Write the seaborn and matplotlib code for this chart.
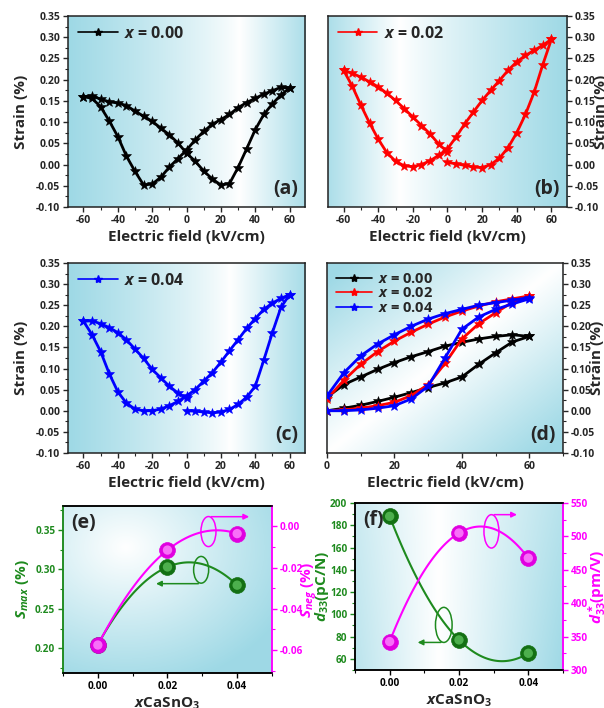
import numpy as np
import pandas as pd
import seaborn as sns
import matplotlib.pyplot as plt
from matplotlib.lines import Line2D
from matplotlib.patches import Ellipse
from matplotlib.ticker import AutoMinorLocator, FormatStrFormatter

sns.set_style("ticks")
plt.rcParams['font.family'] = ['Open Sans', 'DejaVu Sans']
plt.rcParams['font.weight'] = 'bold'
plt.rcParams['axes.labelweight'] = 'bold'
plt.rcParams['axes.unicode_minus'] = False
plt.rcParams['mathtext.fontset'] = 'custom'
plt.rcParams['mathtext.rm'] = 'Open Sans:bold'
plt.rcParams['mathtext.it'] = 'Open Sans:italic:bold'
plt.rcParams['mathtext.bf'] = 'Open Sans:bold'

# field sweeps (kV/cm)
field_up = [0, 5, 10, 15, 20, 25, 30, 35, 40, 45, 50, 55, 60]
field_down = [60, 55, 50, 45, 40, 35, 30, 25, 20, 15, 10, 5, 0,
              -5, -10, -15, -20, -25, -30, -35, -40, -45, -50, -55, -60]
field_back = [-60, -55, -50, -45, -40, -35, -30, -25, -20, -15, -10, -5, 0]
field_uni_down = [60, 55, 50, 45, 40, 35, 30, 25, 20, 15, 10, 5, 0]

# (a) x = 0.00 bipolar strain (%)
a_up = [0.027, 0.008, -0.015, -0.034, -0.048, -0.045, -0.007, 0.037, 0.082, 0.118, 0.143, 0.164, 0.180]
a_down = [0.180, 0.182, 0.174, 0.166, 0.156, 0.146, 0.134, 0.118, 0.106, 0.095, 0.078, 0.058, 0.034,
          0.014, -0.006, -0.030, -0.046, -0.048, -0.016, 0.020, 0.066, 0.103, 0.136, 0.156, 0.160]
a_back = [0.160, 0.162, 0.154, 0.148, 0.145, 0.139, 0.126, 0.114, 0.102, 0.086, 0.070, 0.051, 0.027]

# (b) x = 0.02
b_up = [0.005, 0.002, -0.002, -0.006, -0.007, 0.000, 0.015, 0.040, 0.075, 0.118, 0.170, 0.235, 0.295]
b_down = [0.295, 0.281, 0.269, 0.257, 0.242, 0.222, 0.198, 0.175, 0.151, 0.124, 0.096, 0.065, 0.037,
          0.022, 0.009, 0.000, -0.005, -0.003, 0.008, 0.028, 0.060, 0.098, 0.140, 0.185, 0.222]
b_back = [0.222, 0.215, 0.206, 0.195, 0.183, 0.168, 0.151, 0.132, 0.112, 0.092, 0.072, 0.048, 0.030]

# (c) x = 0.04
c_up = [0.000, -0.001, -0.003, -0.005, -0.003, 0.003, 0.015, 0.032, 0.058, 0.120, 0.185, 0.245, 0.275]
c_down = [0.275, 0.266, 0.255, 0.240, 0.218, 0.195, 0.168, 0.142, 0.115, 0.090, 0.070, 0.050, 0.035,
          0.022, 0.012, 0.004, 0.000, 0.000, 0.004, 0.018, 0.045, 0.088, 0.140, 0.180, 0.212]
c_back = [0.212, 0.213, 0.206, 0.197, 0.185, 0.168, 0.146, 0.124, 0.098, 0.078, 0.058, 0.042, 0.030]

# (d) unipolar loops
d0_up = [0.000, 0.006, 0.013, 0.022, 0.032, 0.043, 0.055, 0.066, 0.080, 0.110, 0.137, 0.163, 0.176]
d0_down = [0.176, 0.180, 0.176, 0.170, 0.162, 0.153, 0.140, 0.128, 0.114, 0.098, 0.080, 0.062, 0.032]
d2_up = [0.000, 0.002, 0.006, 0.012, 0.020, 0.036, 0.062, 0.112, 0.170, 0.206, 0.232, 0.257, 0.272]
d2_down = [0.272, 0.265, 0.258, 0.248, 0.236, 0.222, 0.205, 0.186, 0.165, 0.140, 0.110, 0.072, 0.028]
d4_up = [0.000, 0.000, 0.002, 0.006, 0.012, 0.028, 0.058, 0.125, 0.193, 0.222, 0.240, 0.253, 0.265]
d4_down = [0.268, 0.262, 0.256, 0.250, 0.240, 0.230, 0.217, 0.200, 0.180, 0.158, 0.130, 0.090, 0.035]

# (e), (f) composition dependence
x_frac = [0.00, 0.02, 0.04]
s_max = [0.205, 0.303, 0.280]
s_neg = [-0.0576, -0.0115, -0.0035]
d33 = [188, 77, 65]
d33_star = [342.5, 505, 467.5]

CYAN = np.array([0.62, 0.85, 0.90])
GREEN = '#1e8a1e'
PINK = '#ff00ff'
LBL = 11


def loop_df(pairs):
    E, S = [], []
    for e, s in pairs:
        E += list(e)
        S += list(s)
    return pd.DataFrame({'E': E, 'S': S})


def shade(ax, w):
    w = np.clip(w, 0, 1)[..., None]
    img = (1 - w) * np.ones(3) + w * CYAN
    ax.imshow(img, extent=[0, 1, 0, 1], transform=ax.transAxes,
              aspect='auto', zorder=0, origin='lower', interpolation='bilinear')


gx, gy = np.meshgrid(np.linspace(0, 1, 200), np.linspace(0, 1, 200))


def style_loop(ax, right=False, xlim=(-69, 69), xticks=(-60, -40, -20, 0, 20, 40, 60)):
    ax.set_xlim(*xlim)
    ax.set_ylim(-0.10, 0.35)
    ax.set_xticks(list(xticks))
    ax.set_yticks([-0.10, -0.05, 0.00, 0.05, 0.10, 0.15, 0.20, 0.25, 0.30, 0.35])
    ax.yaxis.set_major_formatter(FormatStrFormatter('%.2f'))
    ax.xaxis.set_minor_locator(AutoMinorLocator(2))
    ax.yaxis.set_minor_locator(AutoMinorLocator(2))
    ax.tick_params(which='major', direction='out', length=3.5, width=1, labelsize=7.5, pad=2)
    ax.tick_params(which='minor', direction='out', length=2, width=0.8)
    ax.set_xlabel('Electric field (kV/cm)', fontsize=LBL, labelpad=3)
    if right:
        ax.yaxis.tick_right()
        ax.yaxis.set_label_position('right')
        ax.set_ylabel('Strain (%)', fontsize=LBL, rotation=90)
        ax.yaxis.set_label_coords(1.115, 0.5)
    else:
        ax.set_ylabel('Strain (%)', fontsize=LBL)
        ax.yaxis.set_label_coords(-0.17, 0.5)
    for sp in ax.spines.values():
        sp.set_linewidth(1.1)
        sp.set_color('#222222')


def draw_loop(ax, df, color):
    sns.lineplot(data=df, x='E', y='S', sort=False, estimator=None, color=color,
                 lw=2.0, marker='*', markersize=7.5, markeredgecolor=color,
                 markeredgewidth=0.4, ax=ax, zorder=3)


def star_handle(color):
    return Line2D([], [], color=color, lw=1.2, marker='*', markersize=6)


fig = plt.figure(figsize=(6.04, 7.08), dpi=100)

# (a)
ax = fig.add_axes([0.1126, 0.7076, 0.3924, 0.2698])
shade(ax, np.where(gx < 0.72, ((0.72 - gx) / 0.72) ** 0.8, (gx - 0.72) / 0.28 * 0.85))
draw_loop(ax, loop_df([(field_up, a_up), (field_down, a_down), (field_back, a_back)]), 'black')
style_loop(ax)
ax.legend(handles=[star_handle('black')], labels=['$x$ = 0.00'], loc='upper left',
          frameon=False, fontsize=11.5, handlelength=2.5, borderaxespad=0.2, handletextpad=0.4)
ax.text(0.97, 0.04, '(a)', transform=ax.transAxes, ha='right', va='bottom', fontsize=14)

# (b)
ax = fig.add_axes([0.5430, 0.7076, 0.3957, 0.2698])
shade(ax, np.where(gx < 0.3, (0.3 - gx) / 0.3 * 0.85, ((gx - 0.3) / 0.7) ** 0.9))
draw_loop(ax, loop_df([(field_up, b_up), (field_down, b_down), (field_back, b_back)]), 'red')
style_loop(ax, right=True)
ax.legend(handles=[star_handle('red')], labels=['$x$ = 0.02'], loc='upper left',
          frameon=False, fontsize=11.5, handlelength=2.5, borderaxespad=0.2, handletextpad=0.4)
ax.text(0.97, 0.04, '(b)', transform=ax.transAxes, ha='right', va='bottom', fontsize=14)

# (c)
ax = fig.add_axes([0.1126, 0.3602, 0.3924, 0.2684])
shade(ax, np.where(gx < 0.68, ((0.68 - gx) / 0.68) ** 0.8, (gx - 0.68) / 0.32 * 0.9))
draw_loop(ax, loop_df([(field_up, c_up), (field_down, c_down), (field_back, c_back)]), 'blue')
style_loop(ax)
ax.legend(handles=[star_handle('blue')], labels=['$x$ = 0.04'], loc='upper left',
          frameon=False, fontsize=11.5, handlelength=2.5, borderaxespad=0.2, handletextpad=0.4)
ax.text(0.97, 0.04, '(c)', transform=ax.transAxes, ha='right', va='bottom', fontsize=14)

# (d)
ax = fig.add_axes([0.5414, 0.3602, 0.3907, 0.2684])
shade(ax, np.abs(gx - gy) * 1.1)
draw_loop(ax, loop_df([(field_up, d0_up), (field_uni_down, d0_down)]), 'black')
draw_loop(ax, loop_df([(field_up, d2_up), (field_uni_down, d2_down)]), 'red')
draw_loop(ax, loop_df([(field_up, d4_up), (field_uni_down, d4_down)]), 'blue')
style_loop(ax, right=True, xlim=(0, 70), xticks=(0, 20, 40, 60))
ax.legend(handles=[star_handle(c) for c in ['black', 'red', 'blue']],
          labels=['$x$ = 0.00', '$x$ = 0.02', '$x$ = 0.04'], loc='upper left',
          frameon=False, fontsize=10.5, handlelength=2.5, borderaxespad=0.2,
          handletextpad=0.4, labelspacing=0.05)
ax.text(0.97, 0.04, '(d)', transform=ax.transAxes, ha='right', va='bottom', fontsize=14)


def style_comp(ax, ax2, left_color, left_spine):
    ax.set_xlim(-0.01, 0.05)
    ax.set_xticks([0.00, 0.02, 0.04])
    ax.xaxis.set_major_formatter(FormatStrFormatter('%.2f'))
    ax.xaxis.set_minor_locator(AutoMinorLocator(2))
    ax.yaxis.set_minor_locator(AutoMinorLocator(2))
    ax2.yaxis.set_minor_locator(AutoMinorLocator(2))
    for a in (ax, ax2):
        a.tick_params(which='major', direction='out', length=3.5, width=1, labelsize=7.2, pad=2)
        a.tick_params(which='minor', direction='out', length=2, width=0.8)
    ax.tick_params(axis='y', which='both', colors=left_color)
    ax2.tick_params(axis='y', which='both', colors=PINK)
    ax.tick_params(axis='x', which='both', colors='black')
    ax.set_xlabel('$x$CaSnO$_3$', fontsize=LBL, labelpad=3)
    for a in (ax, ax2):
        a.spines['top'].set_color('black')
        a.spines['bottom'].set_color('black')
        a.spines['left'].set_color(left_spine)
        a.spines['right'].set_color(PINK)
        for sp in a.spines.values():
            sp.set_linewidth(1.1)


def balls(ax, x, y, color, dark):
    sns.scatterplot(x=x, y=y, ax=ax, s=130, color=dark, edgecolor=dark, linewidth=0.5, zorder=5)
    sns.scatterplot(x=x, y=y, ax=ax, s=45, color=color, edgecolor='none', alpha=0.8, zorder=6)


def loop_note(ax, center, size, color, arrow_y, arrow_x):
    ax.add_patch(Ellipse(center, size[0], size[1], transform=ax.transAxes, fill=False,
                         ec=color, lw=1.1, zorder=7))
    ax.annotate('', xy=(arrow_x, arrow_y), xytext=(center[0], arrow_y), xycoords='axes fraction',
                arrowprops=dict(arrowstyle='-|>', color=color, lw=1.1, mutation_scale=8), zorder=7)


# (e)
ax = fig.add_axes([0.1043, 0.0494, 0.3460, 0.2359])
ax2 = ax.twinx()
shade(ax, np.sqrt((gx - 0.3) ** 2 + (gy - 0.75) ** 2) / 0.85)
sns.regplot(x=x_frac, y=s_max, order=2, ci=None, scatter=False, ax=ax,
            line_kws=dict(color=GREEN, lw=1.5, zorder=4))
balls(ax, x_frac, s_max, '#5cc05c', '#137013')
sns.regplot(x=x_frac, y=s_neg, order=2, ci=None, scatter=False, ax=ax2,
            line_kws=dict(color=PINK, lw=1.5, zorder=4))
balls(ax2, x_frac, s_neg, '#ff8cff', '#e000e0')
ax.set_ylim(0.169, 0.380)
ax.set_yticks([0.20, 0.25, 0.30, 0.35])
ax.yaxis.set_major_formatter(FormatStrFormatter('%.2f'))
ax2.set_ylim(-0.0712, 0.0099)
ax2.set_yticks([-0.06, -0.04, -0.02, 0.00])
ax2.yaxis.set_major_formatter(FormatStrFormatter('%.2f'))
style_comp(ax, ax2, GREEN, GREEN)
ax.set_ylabel('$S_{max}$ (%)', fontsize=LBL, color=GREEN)
ax.yaxis.set_label_coords(-0.155, 0.5)
ax2.set_ylabel('$S_{neg}$ (%)', fontsize=LBL, color=PINK, rotation=90)
ax2.yaxis.set_label_coords(1.135, 0.5)
ax.text(0.04, 0.96, '(e)', transform=ax.transAxes, ha='left', va='top', fontsize=14, zorder=8)
loop_note(ax2, (0.696, 0.847), (0.072, 0.18), PINK, 0.936, 0.904)
loop_note(ax2, (0.661, 0.618), (0.072, 0.16), GREEN, 0.535, 0.432)

# (f)
ax = fig.add_axes([0.5877, 0.0537, 0.3444, 0.2359])
ax2 = ax.twinx()
shade(ax, np.where(gx < 0.4, (0.4 - gx) / 0.4 * 0.7, (gx - 0.4) / 0.6) * (0.75 + 0.25 * (1 - gy)))
sns.regplot(x=x_frac, y=d33, order=2, ci=None, scatter=False, ax=ax,
            line_kws=dict(color=GREEN, lw=1.5, zorder=4))
balls(ax, x_frac, d33, '#5cc05c', '#137013')
sns.regplot(x=x_frac, y=d33_star, order=2, ci=None, scatter=False, ax=ax2,
            line_kws=dict(color=PINK, lw=1.5, zorder=4))
balls(ax2, x_frac, d33_star, '#ff8cff', '#e000e0')
ax.set_ylim(50, 200)
ax.set_yticks([60, 80, 100, 120, 140, 160, 180, 200])
ax2.set_ylim(300, 550)
ax2.set_yticks([300, 350, 400, 450, 500, 550])
style_comp(ax, ax2, GREEN, 'black')
ax.set_ylabel('$d_{33}$(pC/N)', fontsize=LBL, color=GREEN)
ax.yaxis.set_label_coords(-0.115, 0.5)
ax2.set_ylabel('$d^*_{33}$(pm/V)', fontsize=LBL, color=PINK, rotation=90)
ax2.yaxis.set_label_coords(1.11, 0.5)
ax.text(0.04, 0.96, '(f)', transform=ax.transAxes, ha='left', va='top', fontsize=14, zorder=8)
loop_note(ax2, (0.656, 0.83), (0.072, 0.20), PINK, 0.93, 0.792)
loop_note(ax2, (0.427, 0.27), (0.08, 0.21), GREEN, 0.165, 0.288)

fig.savefig('out.png', dpi=100)
